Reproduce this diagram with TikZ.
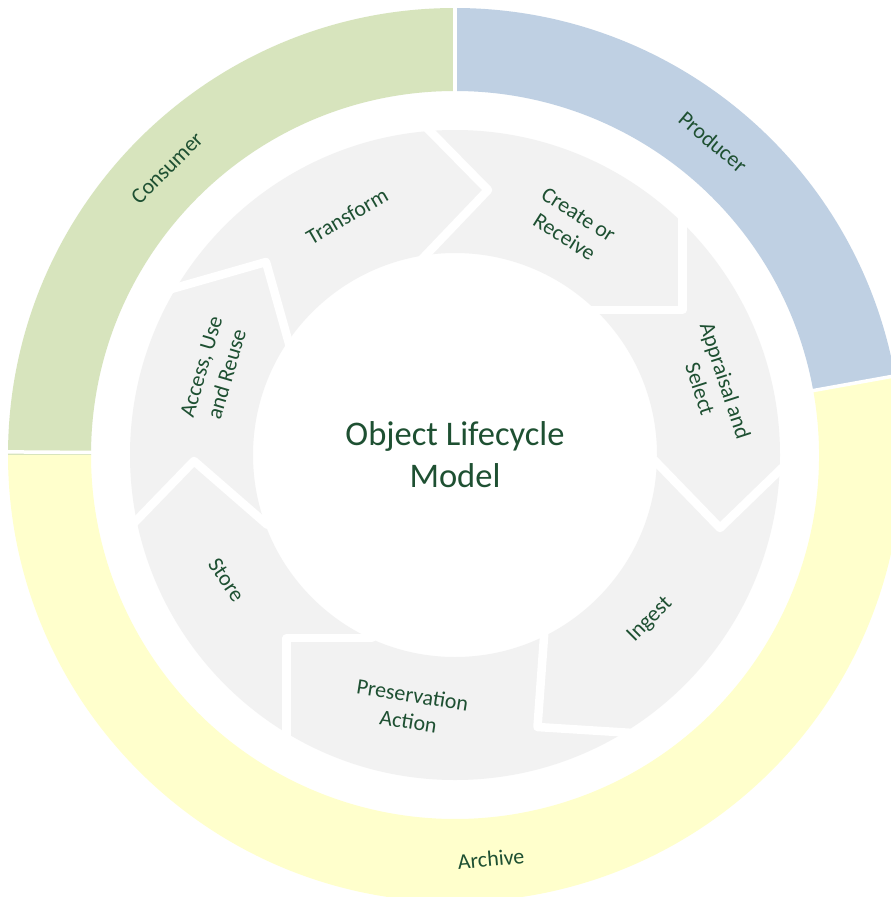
\documentclass[tikz,border=0pt]{standalone}
\usepackage{fontspec}
\setmainfont{Carlito}
\definecolor{consumerc}{HTML}{D7E4BD}
\definecolor{producerc}{HTML}{BFD0E3}
\definecolor{archivec}{HTML}{FFFFCC}
\definecolor{ringc}{HTML}{F2F2F2}
\definecolor{txtc}{HTML}{1E5032}
\tikzset{
  sep/.style={draw=white, line width=8.5pt, line join=round, line cap=round, shorten <=-6pt, shorten >=-6pt},
  bandgap/.style={draw=white, line width=3.5pt},
  lbl/.style={text=txtc, font=\fontsize{22}{26.5}\selectfont, align=center, inner sep=0pt},
  ttl/.style={text=txtc, font=\fontsize{34.5}{42}\selectfont, align=center, inner sep=0pt}
}
\begin{document}
\begin{tikzpicture}[x=1pt,y=-1pt]
\useasboundingbox[fill=white] (0,0) rectangle (891,897);
\begin{scope}
\clip (0,0) rectangle (891,897);
\begin{scope}[shift={(455,455)}]
% outer ring segments (angles clockwise on screen)
\fill[consumerc] (180:364) arc[start angle=180, end angle=270, radius=364] -- (270:447) arc[start angle=270, end angle=180, radius=447] -- cycle;
\fill[producerc] (270:364) arc[start angle=270, end angle=349.8, radius=364] -- (349.8:447) arc[start angle=349.8, end angle=270, radius=447] -- cycle;
\fill[archivec] (-10.2:364) arc[start angle=-10.2, end angle=180, radius=364] -- (180:447) arc[start angle=180, end angle=-10.2, radius=447] -- cycle;
\draw[bandgap] (270:355) -- (270:455);
\draw[bandgap] (180.4:355) -- (180.4:455);
\draw[bandgap] (-10.2:355) -- (-10.2:455);
% gray ring
\fill[ringc, even odd rule] (0,0) circle (325) (0,0) circle (202);
\end{scope}
% separators between the stages
\draw[sep] (427,128) -- (488,190) -- (425,256);
\draw[sep] (682.5,222) -- (682.5,310) -- (597,310);
\draw[sep] (658,464) -- (720,528) -- (782,468);
\draw[sep] (544,637) -- (537.5,727) -- (633,733);
\draw[sep] (366,638) -- (286.7,638) -- (286.7,733);
\draw[sep] (134,523) -- (194,461) -- (263,521);
\draw[sep] (175,288) -- (266,262) -- (288,340);
\end{scope}
% stage labels
\node[lbl, rotate=-32.5] (create) at (571.5,226) {Create or\\Receive};
\node[lbl, rotate=-72] (appraisal) at (713,385) {Appraisal and\\Select};
\node[lbl, rotate=45] (ingest) at (650,620) {Ingest};
\node[lbl, rotate=-9] (preserve) at (410.5,708) {Preservation\\Action};
\node[lbl, rotate=-56] (store) at (226.5,580) {Store};
\node[lbl, rotate=73.5] (access) at (214,370.5) {Access, Use\\and Reuse};
\node[lbl, rotate=30] (transform) at (347,216) {Transform};
% role labels
\node[lbl, rotate=45] (consumer) at (167,168) {Consumer};
\node[lbl, rotate=-40] (producer) at (713,142) {Producer};
\node[lbl, rotate=5] (archive) at (491,859) {Archive};
% title
\node[ttl] (title) at (455,455) {Object Lifecycle\\Model};
\end{tikzpicture}
\end{document}
